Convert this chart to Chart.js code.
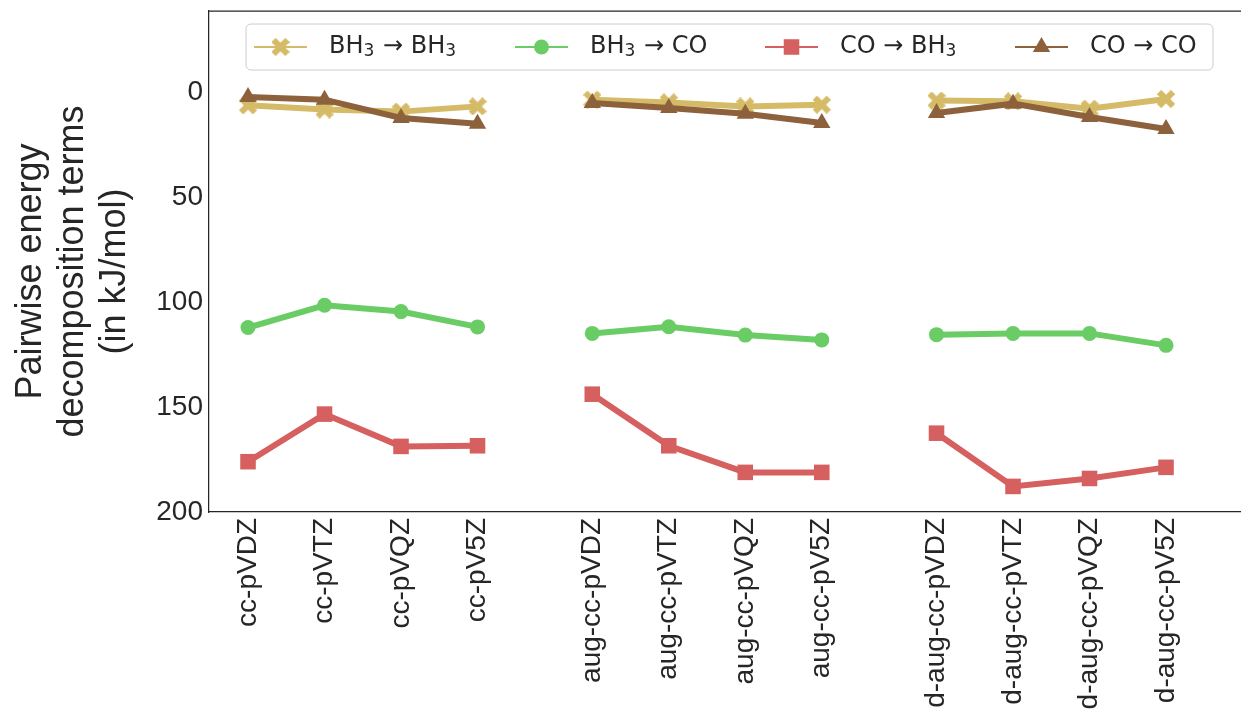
<!DOCTYPE html>
<html>
  <head>
    <meta charset="UTF-8" />
    <title>Pairwise energy decomposition</title>
    <script src="https://cdn.jsdelivr.net/npm/chart.js"></script>
    <style>
      body {
        margin: 0;
        background: #fff;
      }
      #wrap {
        width: 1241px;
        height: 715px;
      }
    </style>
  </head>
  <body>
    <div id="wrap">
      <canvas id="pairChart" width="1241" height="715"></canvas>
    </div>

    <script>
      // basis sets along the x axis, three groups of four
      const basisLabels = [
        "cc-pVDZ", "cc-pVTZ", "cc-pVQZ", "cc-pV5Z",
        "aug-cc-pVDZ", "aug-cc-pVTZ", "aug-cc-pVQZ", "aug-cc-pV5Z",
        "d-aug-cc-pVDZ", "d-aug-cc-pVTZ", "d-aug-cc-pVQZ", "d-aug-cc-pV5Z",
      ];
      const basisPos = [0, 1, 2, 3, 4.5, 5.5, 6.5, 7.5, 9, 10, 11, 12];
      const groupBreaks = [3.75, 8.25];

      // kJ/mol values
      const bh3ToBh3 = [6, 8, 9, 6.5, 3.3, 4.6, 6.5, 5.7, 3.7, 4.1, 7.6, 3];
      const bh3ToCo = [112, 101.4, 104.4, 111.7, 114.8, 111.6, 115.6, 117.9, 115.4, 114.8, 114.8, 120.5];
      const coToBh3 = [176, 153.3, 168.7, 168.4, 143.8, 168.4, 181.1, 181.1, 162.4, 187.8, 184, 178.7];
      const coToCo = [2, 3.3, 12, 14.8, 4.9, 7.3, 10, 14.4, 9.7, 5.2, 11.6, 17.3];

      const yTicks = [0, 50, 100, 150, 200];
      const seriesNames = ["BH₃ → BH₃", "BH₃ → CO", "CO → BH₃", "CO → CO"];
      const yTitle = ["Pairwise energy", "decomposition terms", "(in kJ/mol)"];

      const textColor = "#262626";
      const tickFont = { family: "Liberation Sans, Arial, sans-serif", size: 28 };

      // filled "X" marker like matplotlib's
      function makeX(color, size) {
        const c = document.createElement("canvas");
        c.width = size;
        c.height = size;
        const g = c.getContext("2d");
        g.fillStyle = color;
        g.translate(size / 2, size / 2);
        g.rotate(Math.PI / 4);
        const L = size * 0.55;
        const t = size * 0.17;
        g.fillRect(-L, -t, 2 * L, 2 * t);
        g.fillRect(-t, -L, 2 * t, 2 * L);
        return c;
      }

      // points with gaps between basis-set families
      function toPoints(values) {
        const pts = [];
        values.forEach((v, i) => {
          pts.push({ x: basisPos[i], y: v });
          if (i === 3) pts.push({ x: groupBreaks[0], y: null });
          if (i === 7) pts.push({ x: groupBreaks[1], y: null });
        });
        return pts;
      }

      // draw a label, with "₃" set as a real lowered subscript
      function drawRich(ctx, text, x, y) {
        const parts = text.split("₃");
        parts.forEach((p, i) => {
          ctx.font = "24px 'DejaVu Sans'";
          ctx.fillText(p, x, y);
          x += ctx.measureText(p).width;
          if (i < parts.length - 1) {
            ctx.font = "17px 'DejaVu Sans'";
            ctx.fillText("3", x, y + 5);
            x += ctx.measureText("3").width + 1;
          }
        });
      }

      const colors = ["#d5bb67", "#6acc64", "#d65f5f", "#8c613c"];
      const xMarker = makeX(colors[0], 18);
      const styles = [
        { pointStyle: xMarker, radius: 9 },
        { pointStyle: "circle", radius: 7.5 },
        { pointStyle: "rect", radius: 11 },
        { pointStyle: "triangle", radius: 10 },
      ];
      const seriesData = [bh3ToBh3, bh3ToCo, coToBh3, coToCo];

      const datasets = seriesData.map((vals, i) => ({
        label: seriesNames[i],
        data: toPoints(vals),
        borderColor: colors[i],
        backgroundColor: colors[i],
        borderWidth: 6,
        pointStyle: styles[i].pointStyle,
        pointRadius: styles[i].radius,
        pointBorderWidth: 0,
        pointBackgroundColor: colors[i],
        spanGaps: false,
        order: 3 - i,
      }));

      // legend inside the axes, the top spine and the y title
      const insideLegend = {
        id: "insideLegend",
        afterDraw(chart) {
          const ctx = chart.ctx;
          const area = chart.chartArea;
          ctx.save();
          ctx.strokeStyle = textColor;
          ctx.lineWidth = 1.25;
          ctx.beginPath();
          ctx.moveTo(area.left, area.top);
          ctx.lineTo(chart.width, area.top);
          ctx.stroke();

          // y axis title, three centred lines
          ctx.save();
          ctx.translate(31, (area.top + area.bottom) / 2 + 10);
          ctx.rotate(-Math.PI / 2);
          ctx.font = "36px 'Liberation Sans', Arial, sans-serif";
          ctx.fillStyle = textColor;
          ctx.textAlign = "center";
          ctx.textBaseline = "middle";
          yTitle.forEach((line, i) => ctx.fillText(line, 0, i * 42));
          ctx.restore();

          const bx = area.left + 37;
          const by = area.top + 13;
          const bw = 967;
          const bh = 46;
          ctx.beginPath();
          ctx.roundRect(bx, by, bw, bh, 5);
          ctx.fillStyle = "rgba(255,255,255,0.8)";
          ctx.fill();
          ctx.strokeStyle = "#cccccc";
          ctx.lineWidth = 1;
          ctx.stroke();

          const itemX = [8, 269, 519, 769];
          const cy = by + bh / 2;
          ctx.textBaseline = "middle";
          itemX.forEach((ox, i) => {
            const x0 = bx + ox;
            ctx.strokeStyle = colors[i];
            ctx.lineWidth = 2;
            ctx.beginPath();
            ctx.moveTo(x0, cy);
            ctx.lineTo(x0 + 53, cy);
            ctx.stroke();
            ctx.fillStyle = colors[i];
            Chart.helpers.drawPoint(
              ctx,
              { pointStyle: styles[i].pointStyle, radius: styles[i].radius, borderWidth: 0, rotation: 0 },
              x0 + 26.5,
              cy
            );
            ctx.fillStyle = textColor;
            drawRich(ctx, seriesNames[i], x0 + 75, cy);
          });
          ctx.restore();
        },
      };

      new Chart(document.getElementById("pairChart"), {
        type: "line",
        data: { datasets: datasets },
        plugins: [insideLegend],
        options: {
          responsive: false,
          animation: false,
          layout: { autoPadding: false, padding: { top: 11, right: 0, left: 0, bottom: 0 } },
          plugins: {
            legend: { display: false },
            tooltip: { enabled: false },
          },
          scales: {
            x: {
              type: "linear",
              min: -0.51,
              max: 12.98,
              grid: { display: false, drawTicks: false },
              border: { display: true, color: textColor, width: 1.25 },
              afterBuildTicks: (scale) => {
                scale.ticks = basisPos.map((v) => ({ value: v }));
              },
              afterFit: (scale) => {
                scale.height = 203;
                scale.paddingLeft = 0;
                scale.paddingRight = 0;
              },
              ticks: {
                autoSkip: false,
                minRotation: 90,
                maxRotation: 90,
                padding: 6,
                color: textColor,
                font: tickFont,
                callback: (value) => basisLabels[basisPos.indexOf(value)],
              },
            },
            y: {
              reverse: true,
              min: -39,
              max: 200,
              grid: { display: false, drawTicks: false },
              border: { display: true, color: textColor, width: 1.25 },
              afterBuildTicks: (scale) => {
                scale.ticks = yTicks.map((v) => ({ value: v }));
              },
              afterFit: (scale) => {
                scale.width = 209;
                scale.paddingTop = 0;
                scale.paddingBottom = 0;
              },
              ticks: {
                padding: 6,
                color: textColor,
                font: tickFont,
              },
            },
          },
        },
      });
    </script>
  </body>
</html>
